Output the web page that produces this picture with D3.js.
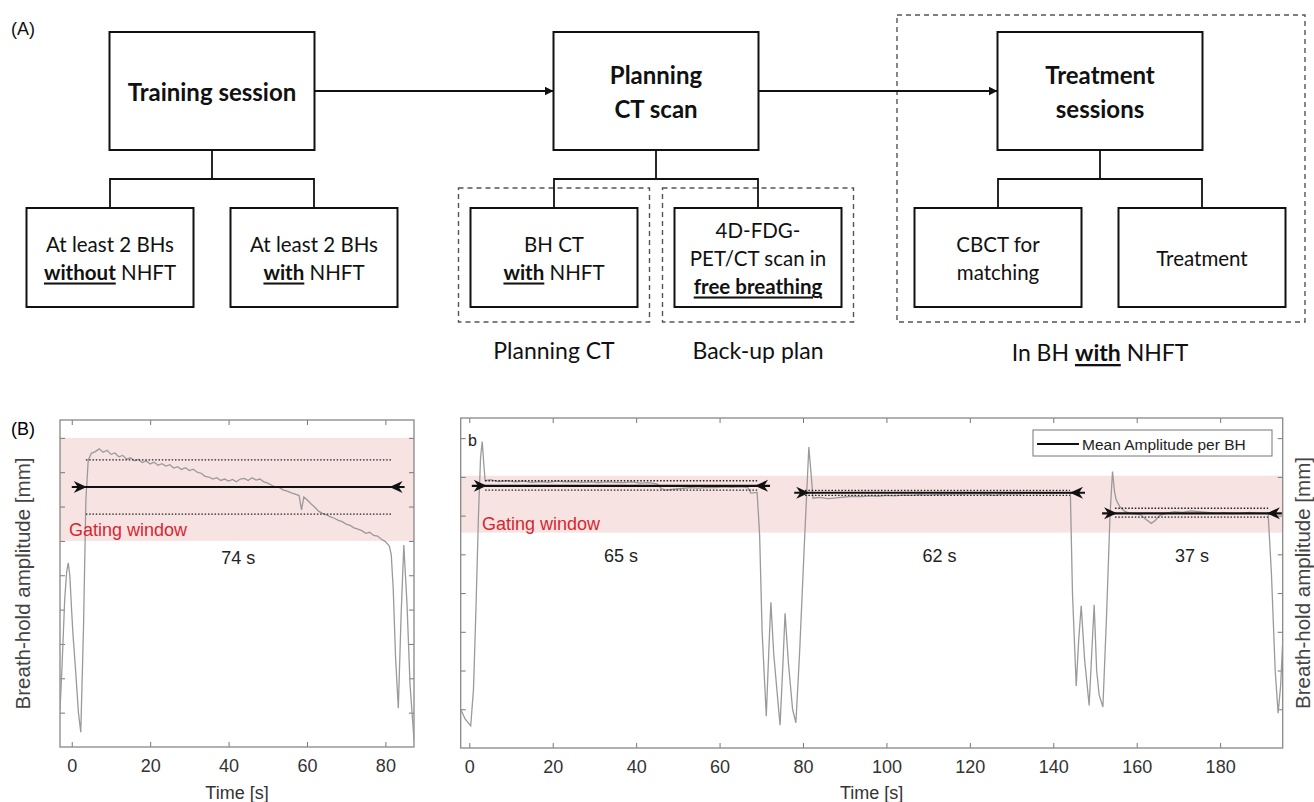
<!DOCTYPE html>
<html lang="en">
  <head>
    <title>Breath-hold workflow</title>
    <script src="https://d3js.org/d3.v7.min.js"></script>
    <style>
      body {
        margin: 0;
        background: #fff;
      }
      .flow text {
        font-family: Lato, "Open Sans", sans-serif;
        fill: #111;
      }
      .plot text {
        font-family: "Liberation Sans", Arial, sans-serif;
      }
    </style>
  </head>
  <body>
    <div id="chart"></div>
    <script>
      // ---- flowchart content ----
      const stages = ["training", "planning", "treatment"];
      const stageTitles = [["Training session"], ["Planning", "CT scan"], ["Treatment", "sessions"]];
      // each sub box: lines, each line a list of [text, emphasised]
      const stageSubs = [
        [
          [[["At least 2 BHs", 0]], [["without", 1], [" NHFT", 0]]],
          [[["At least 2 BHs", 0]], [["with", 1], [" NHFT", 0]]]
        ],
        [
          [[["BH CT", 0]], [["with", 1], [" NHFT", 0]]],
          [[["4D-FDG-", 0]], [["PET/CT scan in", 0]], [["free breathing", 1]]]
        ],
        [
          [[["CBCT for", 0]], [["matching", 0]]],
          [[["Treatment", 0]]]
        ]
      ];
      const planningLabels = ["Planning CT", "Back-up plan"];
      const treatmentLabel = [["In BH ", 0], ["with", 1], [" NHFT", 0]];

      // ---- panel (left) : training breath hold ----
      const leftTime = [-3, -2.5, -1.8, -1.3, -0.9, -0.5, 0, 0.3, 1, 1.7, 2.3, 3, 3.6, 4.2, 5, 6, 7, 8, 9, 10, 11, 12, 13, 14, 15, 16, 17, 18, 19, 20, 21, 22, 23, 24, 25, 26, 27, 28, 29, 30, 31, 32, 33, 34, 35, 36, 37, 38, 39, 40, 41, 42, 43, 44, 45, 46, 47, 48, 49, 50, 51, 52, 53, 54, 55, 56, 57, 58, 58.6, 59.2, 60, 61, 62, 63, 64, 65, 66, 67, 68, 69, 70, 71, 72, 73, 74, 75, 76, 77, 78, 79, 80, 81, 81.5, 82, 82.6, 83.3, 84, 84.7, 85.5, 86.3, 87.3];
      const leftAmp = [1.07, 2.3, 4.3, 5.1, 5.36, 5.0, 3.9, 3.3, 2.2, 1.0, 0.43, 3.5, 7.2, 8.35, 8.55, 8.6, 8.68, 8.58, 8.64, 8.52, 8.56, 8.45, 8.49, 8.38, 8.42, 8.33, 8.37, 8.28, 8.33, 8.24, 8.29, 8.2, 8.25, 8.18, 8.22, 8.12, 8.16, 8.08, 8.13, 8.05, 8.09, 8.0, 7.97, 7.88, 7.86, 7.8, 7.84, 7.76, 7.8, 7.74, 7.79, 7.72, 7.8, 7.82, 7.76, 7.84, 7.77, 7.8, 7.72, 7.68, 7.62, 7.57, 7.55, 7.48, 7.45, 7.4, 7.36, 7.32, 6.9, 7.28, 7.2, 7.08, 6.98, 6.86, 6.8, 6.76, 6.7, 6.66, 6.6, 6.56, 6.49, 6.45, 6.38, 6.34, 6.3, 6.22, 6.25, 6.16, 6.14, 6.05, 5.98, 5.85, 5.6, 4.6, 2.6, 1.13, 3.8, 5.88, 4.2, 1.8, 0.2];
      const leftGate = [6, 9];
      // [start, end, mean, upper, lower, dottedStart, dottedEnd, label]
      const leftHolds = [[0, 84.9, 7.57, 8.36, 6.78, 3.6, 81.5, "74 s"]];
      const leftXTicks = [0, 20, 40, 60, 80];
      const leftYTicks = [1, 2, 3, 4, 5, 6, 7, 8, 9];

      // ---- panel (right) : treatment breath holds ----
      const rightTime = [-2, -1, 0.34, 1, 1.6, 2.2, 2.7, 3.1, 3.5, 3.8, 5, 7, 9, 11, 13, 15, 17, 19, 21, 23, 25, 27, 29, 31, 33, 35, 37, 39, 41, 43, 45, 46, 47, 49, 51, 53, 55, 57, 59, 61, 63, 65, 66.8, 67.5, 69, 69.6, 70.2, 71.2, 71.8, 72.3, 73, 74.5, 75.2, 75.7, 76.5, 77.5, 78.3, 79.2, 80.3, 81.4, 82, 82.4, 84, 86, 88, 90, 92, 94, 96, 98, 100, 102, 104, 106, 108, 110, 112, 114, 116, 118, 120, 122, 124, 126, 128, 130, 132, 134, 136, 138, 140, 142, 144.1, 144.6, 145.5, 146.1, 146.7, 147.5, 148.6, 149.2, 149.8, 150.4, 151, 151.9, 152.8, 153.6, 154.2, 154.7, 155.1, 156, 157, 158, 159, 160, 161, 162, 163.5, 164.5, 165.5, 167, 169, 171, 173, 175, 177, 179, 181, 183, 185, 187, 189, 191.5, 192.3, 193.2, 193.9, 194.5, 195];
      const rightAmp = [0.98, 0.75, 0.57, 1.5, 3.6, 6.0, 7.5, 7.91, 7.3, 6.9, 6.93, 6.88, 6.9, 6.87, 6.89, 6.86, 6.88, 6.86, 6.89, 6.87, 6.88, 6.86, 6.87, 6.85, 6.87, 6.86, 6.85, 6.87, 6.84, 6.85, 6.82, 6.7, 6.66, 6.68, 6.7, 6.72, 6.71, 6.73, 6.72, 6.74, 6.73, 6.74, 6.72, 6.58, 6.6, 5.5, 3.0, 0.82, 2.5, 3.76, 2.4, 0.59, 2.2, 3.48, 2.2, 1.0, 0.65, 2.5, 5.2, 7.77, 7.0, 6.45, 6.47, 6.44, 6.46, 6.48, 6.5, 6.49, 6.51, 6.5, 6.52, 6.51, 6.53, 6.52, 6.54, 6.53, 6.55, 6.54, 6.56, 6.55, 6.57, 6.56, 6.55, 6.52, 6.56, 6.57, 6.56, 6.58, 6.57, 6.58, 6.57, 6.59, 6.58, 4.0, 1.6, 2.8, 3.67, 2.3, 1.1, 2.4, 3.7, 2.0, 1.37, 1.06, 3.5, 6.0, 7.14, 6.6, 6.4, 6.22, 6.12, 6.07, 6.05, 6.04, 6.02, 5.92, 5.8, 5.88, 6.0, 6.06, 6.1, 6.08, 6.12, 6.1, 6.08, 6.06, 6.07, 6.05, 6.06, 6.08, 6.06, 6.06, 4.5, 2.0, 0.9, 1.6, 2.75];
      const rightGate = [5.56, 7.03];
      const rightHolds = [
        [0.6, 72.1, 6.77, 6.9, 6.66, 3.8, 69, "65 s"],
        [77.9, 147.6, 6.59, 6.65, 6.52, 80.5, 144, "62 s"],
        [151.7, 194.8, 6.06, 6.19, 5.96, 154.8, 191.5, "37 s"]
      ];
      const rightXTicks = [0, 20, 40, 60, 80, 100, 120, 140, 160, 180];
      const rightYTicks = [1, 2, 3, 4, 5, 6, 7, 8];

      const width = 1314;
      const height = 802;
      const svg = d3
        .select("#chart")
        .append("svg")
        .attr("width", width)
        .attr("height", height);

      /** writes a line made of plain / bold-underlined pieces */
      function richLine(g, x, y, parts, size) {
        const t = g
          .append("text")
          .attr("x", x)
          .attr("y", y)
          .attr("text-anchor", "middle")
          .attr("dominant-baseline", "central")
          .style("font-size", size + "px");
        parts.forEach(([txt, em]) => {
          const s = t.append("tspan").text(txt);
          if (em) s.style("font-weight", 700).style("text-decoration", "underline");
        });
        return t;
      }

      // ---------- (A) flowchart ----------
      const flow = svg.append("g").attr("class", "flow");
      flow
        .append("text")
        .attr("x", 11)
        .attr("y", 35)
        .style("font-size", "18px")
        .style("font-family", "Liberation Sans, Arial, sans-serif")
        .text("(A)");

      const colX = d3.scalePoint().domain(stages).range([212, 1100]);
      const mainW = 205, mainH = 118, mainTop = 32;
      const subW = 167, subH = 99, subTop = 208, subOff = 102, joinY = 179;
      const mainCy = mainTop + mainH / 2;

      // arrows between main boxes
      flow
        .append("defs")
        .append("marker")
        .attr("id", "tri")
        .attr("viewBox", "0 0 10 10")
        .attr("refX", 10)
        .attr("refY", 5)
        .attr("markerWidth", 5)
        .attr("markerHeight", 5)
        .attr("orient", "auto")
        .append("path")
        .attr("d", "M0,0L10,5L0,10z")
        .attr("fill", "#111");

      // dashed groups
      const dash = (x, y, w, h) =>
        flow
          .append("rect")
          .attr("x", x)
          .attr("y", y)
          .attr("width", w)
          .attr("height", h)
          .attr("fill", "none")
          .attr("stroke", "#555")
          .attr("stroke-width", 1.4)
          .attr("stroke-dasharray", "5,4");
      [-1, 1].forEach((s) => {
        const cx = colX("planning") + s * subOff;
        dash(cx - subW / 2 - 12, 188, subW + 24, 134);
      });
      dash(897, 15, 408, 307);

      stages.forEach((st, i) => {
        const cx = colX(st);
        flow
          .append("rect")
          .attr("x", cx - mainW / 2)
          .attr("y", mainTop)
          .attr("width", mainW)
          .attr("height", mainH)
          .attr("fill", "#fff")
          .attr("stroke", "#111")
          .attr("stroke-width", 2);
        const lines = stageTitles[i];
        lines.forEach((ln, j) => {
          const y = mainCy + (j - (lines.length - 1) / 2) * 34;
          flow
            .append("text")
            .attr("x", cx)
            .attr("y", y)
            .attr("text-anchor", "middle")
            .attr("dominant-baseline", "central")
            .style("font-size", "24px")
            .style("font-weight", 700)
            .text(ln);
        });
        if (i < stages.length - 1) {
          flow
            .append("line")
            .attr("x1", cx + mainW / 2)
            .attr("x2", colX(stages[i + 1]) - mainW / 2)
            .attr("y1", mainCy)
            .attr("y2", mainCy)
            .attr("stroke", "#111")
            .attr("stroke-width", 1.8)
            .attr("marker-end", "url(#tri)");
        }
        // connectors
        flow
          .append("path")
          .attr(
            "d",
            `M${cx},${mainTop + mainH}V${joinY}M${cx - subOff},${subTop}V${joinY}H${cx + subOff}V${subTop}`
          )
          .attr("fill", "none")
          .attr("stroke", "#111")
          .attr("stroke-width", 1.8);
        stageSubs[i].forEach((sub, k) => {
          const sx = cx + (k ? subOff : -subOff);
          flow
            .append("rect")
            .attr("x", sx - subW / 2)
            .attr("y", subTop)
            .attr("width", subW)
            .attr("height", subH)
            .attr("fill", "#fff")
            .attr("stroke", "#111")
            .attr("stroke-width", 2);
          sub.forEach((parts, j) => {
            const y = subTop + subH / 2 + (j - (sub.length - 1) / 2) * 28;
            richLine(flow, sx, y, parts, 20.5);
          });
        });
      });
      planningLabels.forEach((lb, k) => {
        richLine(flow, colX("planning") + (k ? subOff : -subOff), 350, [[lb, 0]], 23);
      });
      richLine(flow, colX("treatment"), 352, treatmentLabel, 23);

      // ---------- (B) breath-hold plots ----------
      const plot = svg.append("g").attr("class", "plot");
      plot
        .append("text")
        .attr("x", 11)
        .attr("y", 435)
        .style("font-size", "18px")
        .text("(B)");

      function drawPanel(o) {
        const g = plot.append("g");
        const x = d3.scaleLinear().domain(o.xDomain).range(o.xRange);
        const y = d3.scaleLinear().domain(o.yDomain).range(o.yRange);
        const [x0, x1] = o.xRange;
        const [y1, y0] = o.yRange;

        g.append("clipPath")
          .attr("id", o.id)
          .append("rect")
          .attr("x", x0)
          .attr("y", y0)
          .attr("width", x1 - x0)
          .attr("height", y1 - y0);

        // gating window
        g.append("rect")
          .attr("x", x0)
          .attr("width", x1 - x0)
          .attr("y", y(o.gate[1]))
          .attr("height", y(o.gate[0]) - y(o.gate[1]))
          .attr("fill", "#f8e3e3");

        // axes with ticks inside, box on
        const tickLen = 5;
        g.append("g")
          .attr("transform", `translate(0,${y1})`)
          .call(d3.axisBottom(x).tickValues(o.xTicks).tickSizeInner(-tickLen).tickSizeOuter(0).tickPadding(12))
          .call((a) => a.select(".domain").remove())
          .call((a) => a.selectAll("line").attr("stroke", "#777"))
          .call((a) =>
            a.selectAll("text").style("font-size", "18px").attr("fill", "#333").style("font-family", "Liberation Sans, Arial, sans-serif")
          );
        g.append("g")
          .attr("transform", `translate(0,${y0})`)
          .call(d3.axisTop(x).tickValues(o.xTicks).tickSizeInner(-tickLen).tickSizeOuter(0).tickFormat(""))
          .call((a) => a.select(".domain").remove())
          .call((a) => a.selectAll("line").attr("stroke", "#777"));
        g.append("g")
          .attr("transform", `translate(${x0},0)`)
          .call(d3.axisLeft(y).tickValues(o.yTicks).tickSizeInner(-tickLen).tickSizeOuter(0).tickFormat(""))
          .call((a) => a.select(".domain").remove())
          .call((a) => a.selectAll("line").attr("stroke", "#777"));
        g.append("g")
          .attr("transform", `translate(${x1},0)`)
          .call(d3.axisRight(y).tickValues(o.yTicks).tickSizeInner(-tickLen).tickSizeOuter(0).tickFormat(""))
          .call((a) => a.select(".domain").remove())
          .call((a) => a.selectAll("line").attr("stroke", "#777"));
        g.append("rect")
          .attr("x", x0)
          .attr("y", y0)
          .attr("width", x1 - x0)
          .attr("height", y1 - y0)
          .attr("fill", "none")
          .attr("stroke", "#888")
          .attr("stroke-width", 1.3);

        // breathing trace
        const pts = o.time.map((t, i) => [t, o.amp[i]]);
        g.append("path")
          .datum(pts)
          .attr("clip-path", `url(#${o.id})`)
          .attr("fill", "none")
          .attr("stroke", "#9a9a9a")
          .attr("stroke-width", 1.3)
          .attr("d", d3.line().x((d) => x(d[0])).y((d) => y(d[1])));

        // per-BH mean with dotted bounds
        o.holds.forEach(([s, e, m, up, lo, ds, de, label]) => {
          [up, lo].forEach((v) =>
            g
              .append("line")
              .attr("x1", x(ds))
              .attr("x2", x(de))
              .attr("y1", y(v))
              .attr("y2", y(v))
              .attr("stroke", "#222")
              .attr("stroke-width", 1.3)
              .attr("stroke-dasharray", "1.5,1.8")
          );
          const ym = y(m);
          g.append("line")
            .attr("x1", x(s))
            .attr("x2", x(e))
            .attr("y1", ym)
            .attr("y2", ym)
            .attr("stroke", "#111")
            .attr("stroke-width", 2.2);
          const xs = x(s) + 2, xe = x(e) - 2;
          g.append("path")
            .attr("d", `M${xs},${ym - 6}L${xs + 13},${ym}L${xs},${ym + 6}L${xs + 4},${ym}Z`)
            .attr("fill", "#111");
          g.append("path")
            .attr("d", `M${xe},${ym - 6}L${xe - 13},${ym}L${xe},${ym + 6}L${xe - 4},${ym}Z`)
            .attr("fill", "#111");
          g.append("text")
            .attr("x", x((s + e) / 2))
            .attr("y", o.labelY)
            .attr("text-anchor", "middle")
            .attr("dominant-baseline", "central")
            .style("font-size", "18px")
            .attr("fill", "#222")
            .text(label);
        });

        g.append("text")
          .attr("x", o.gateX)
          .attr("y", o.gateY)
          .attr("dominant-baseline", "central")
          .style("font-size", "18px")
          .attr("fill", "#d8262f")
          .text("Gating window");

        g.append("text")
          .attr("x", (x0 + x1) / 2)
          .attr("y", 793)
          .attr("text-anchor", "middle")
          .attr("dominant-baseline", "central")
          .style("font-size", "18px")
          .attr("fill", "#333")
          .text("Time [s]");

        g.append("text")
          .attr("transform", `translate(${o.yLabelX},${(y0 + y1) / 2}) rotate(-90)`)
          .attr("text-anchor", "middle")
          .attr("dominant-baseline", "central")
          .style("font-size", "20.5px")
          .attr("fill", "#444")
          .text("Breath-hold amplitude [mm]");
        return { g, x, y };
      }

      drawPanel({
        id: "clipL",
        xDomain: [-3, 87.3],
        xRange: [60, 414],
        yDomain: [0, 9.52],
        yRange: [747, 420],
        time: leftTime,
        amp: leftAmp,
        gate: leftGate,
        holds: leftHolds,
        xTicks: leftXTicks,
        yTicks: leftYTicks,
        labelY: 558,
        gateX: 69,
        gateY: 530,
        yLabelX: 22
      });

      const right = drawPanel({
        id: "clipR",
        xDomain: [-2.06, 195],
        xRange: [460.7, 1282.7],
        yDomain: [0, 8.52],
        yRange: [748, 418],
        time: rightTime,
        amp: rightAmp,
        gate: rightGate,
        holds: rightHolds,
        xTicks: rightXTicks,
        yTicks: rightYTicks,
        labelY: 556,
        gateX: 482,
        gateY: 524,
        yLabelX: 1302
      });

      right.g
        .append("text")
        .attr("x", 468)
        .attr("y", 440)
        .attr("dominant-baseline", "central")
        .style("font-size", "16px")
        .attr("fill", "#222")
        .text("b");

      // legend
      const lg = right.g.append("g");
      lg.append("rect")
        .attr("x", 1033)
        .attr("y", 430)
        .attr("width", 239)
        .attr("height", 26)
        .attr("fill", "#fff")
        .attr("stroke", "#777");
      lg.append("line")
        .attr("x1", 1037)
        .attr("x2", 1079)
        .attr("y1", 444)
        .attr("y2", 444)
        .attr("stroke", "#111")
        .attr("stroke-width", 2);
      lg.append("text")
        .attr("x", 1082)
        .attr("y", 444)
        .attr("dominant-baseline", "central")
        .style("font-size", "15.5px")
        .attr("fill", "#222")
        .text("Mean Amplitude per BH");
    </script>
  </body>
</html>
